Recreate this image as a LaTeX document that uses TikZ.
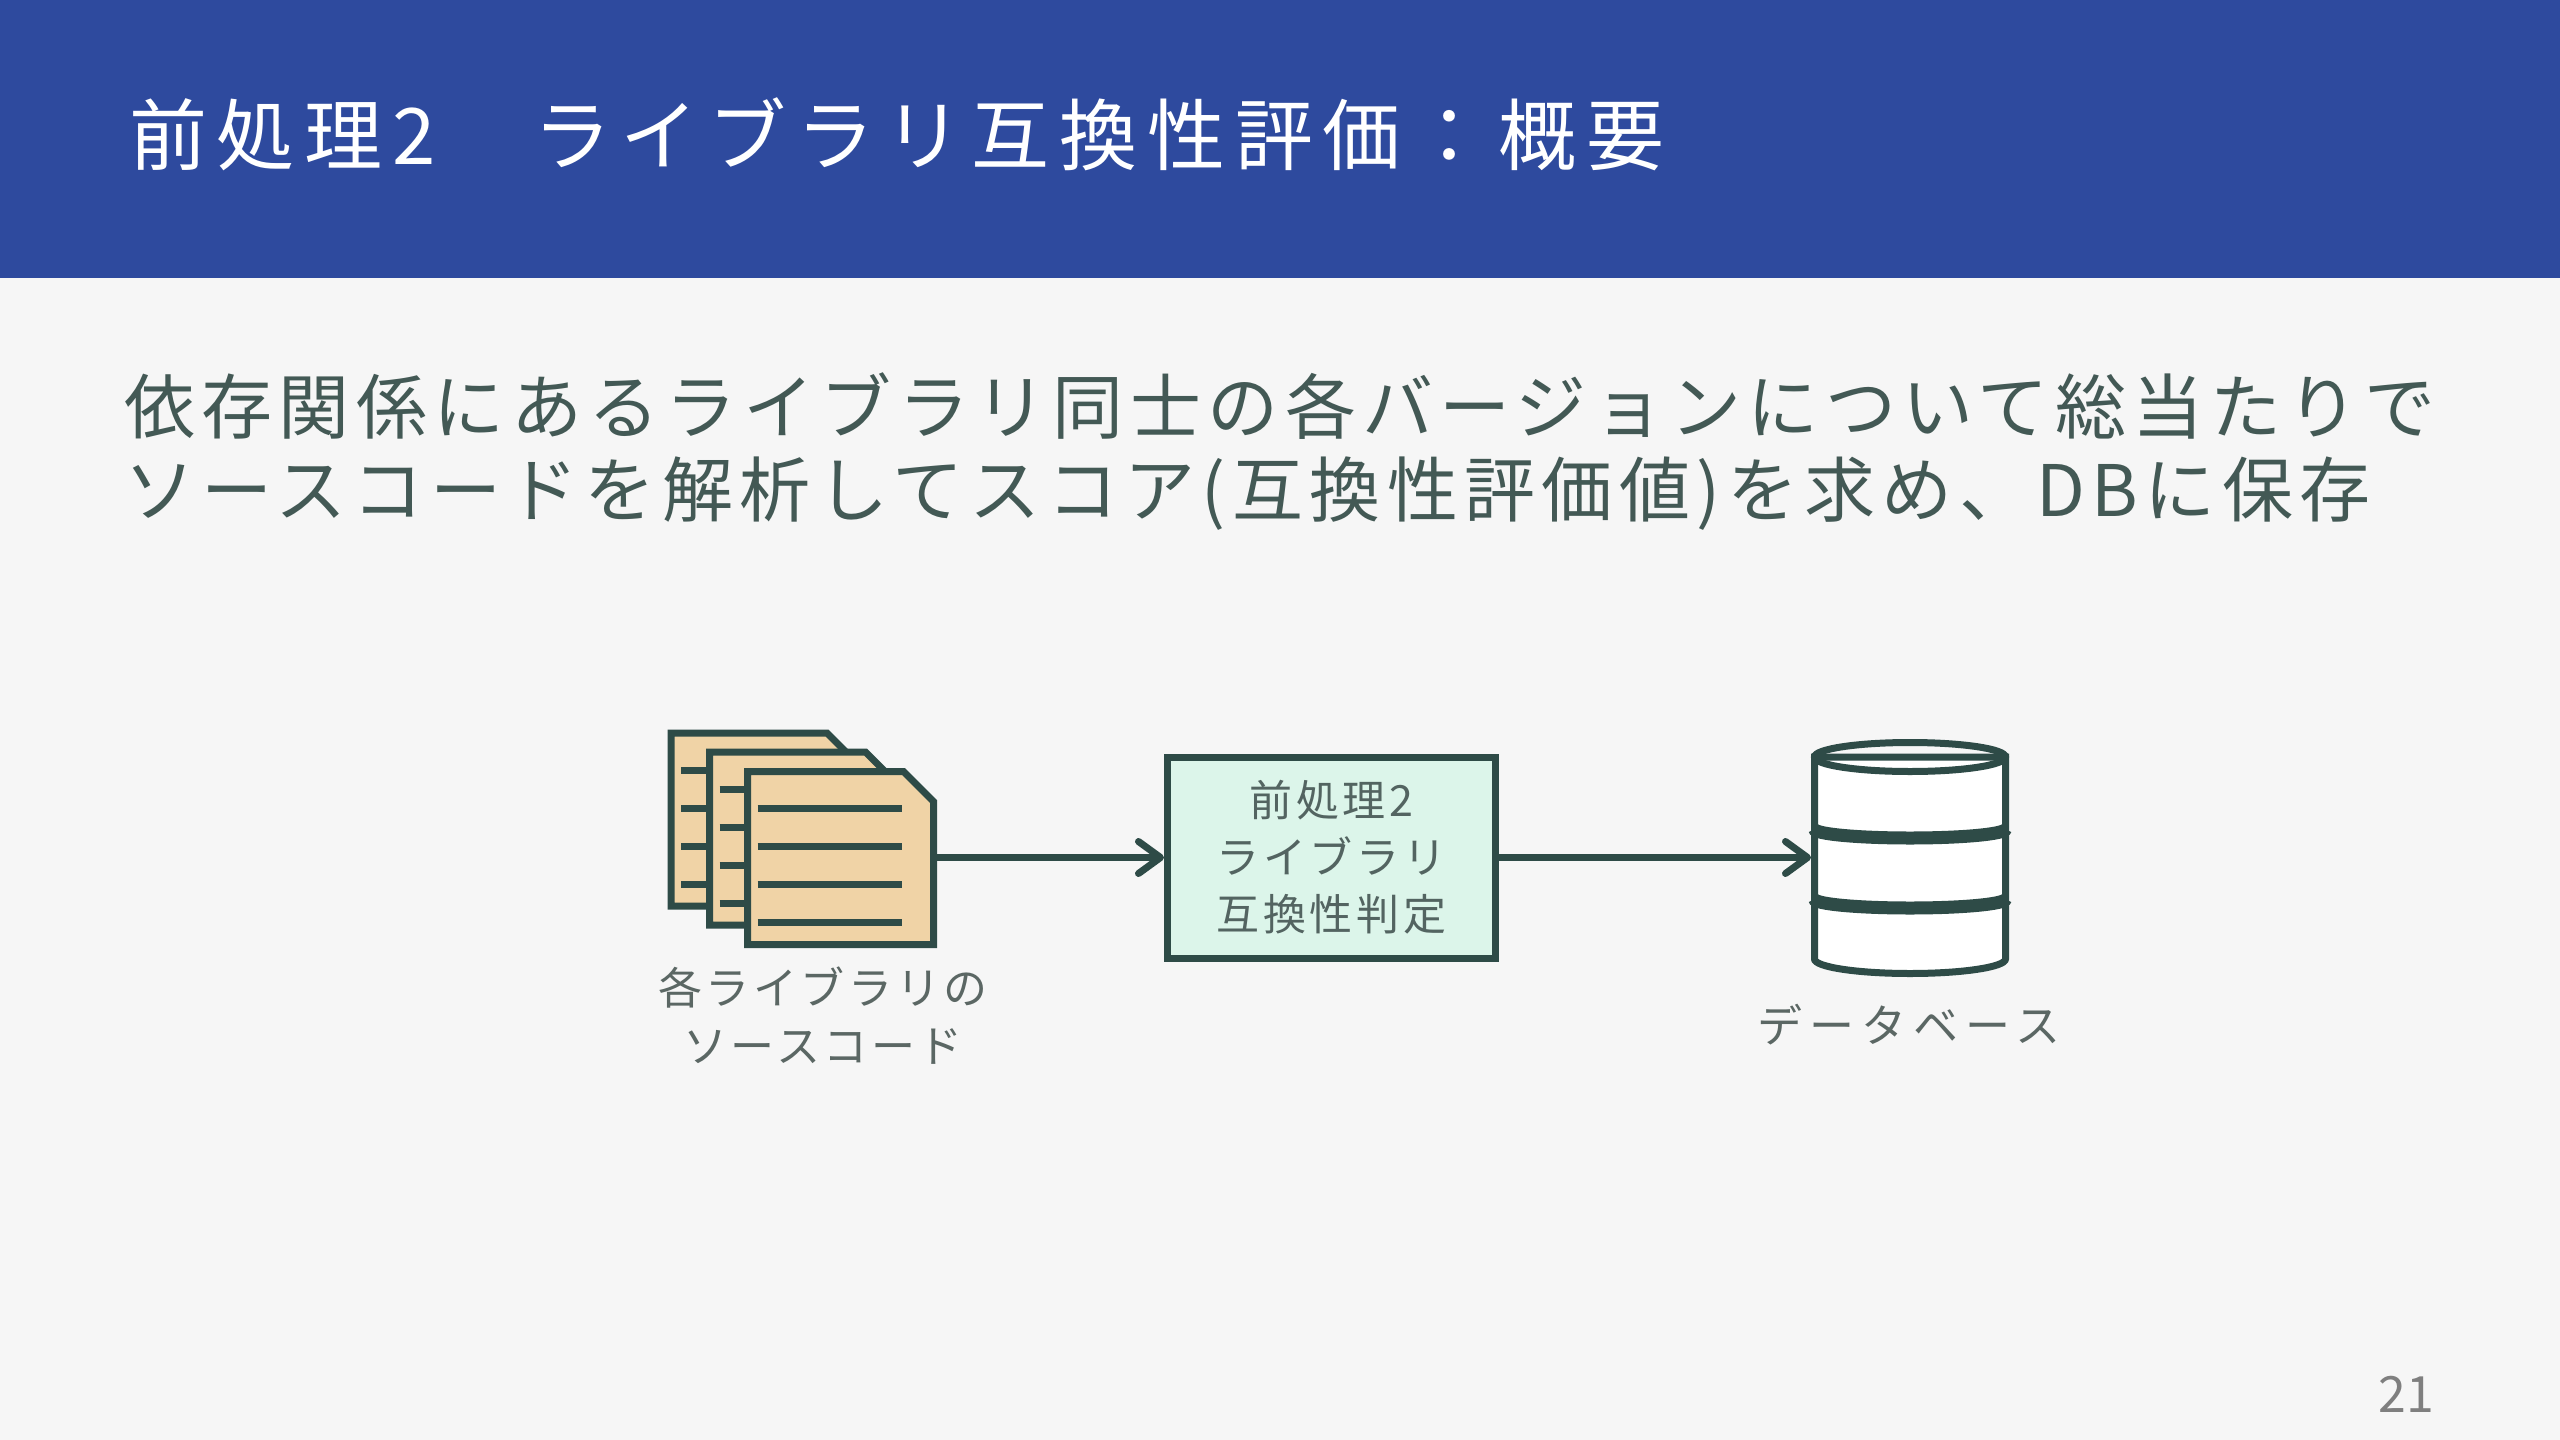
\documentclass[tikz,border=0pt]{standalone}
\usepackage{fontspec}
\setmainfont{Noto Sans CJK JP}
\newfontfamily\titlefont[LetterSpace=12.5]{Noto Sans CJK JP}
\newfontfamily\bodyfont[LetterSpace=9]{Noto Sans CJK JP}
\newfontfamily\boxfont[LetterSpace=8.5]{Noto Sans CJK JP}
\newfontfamily\labfont[LetterSpace=8]{Noto Sans CJK JP}
\newfontfamily\dblabfont[LetterSpace=16]{Noto Sans CJK JP}
\usetikzlibrary{arrows.meta}
\definecolor{bgc}{HTML}{F6F6F6}
\definecolor{hdr}{HTML}{2E4A9E}
\definecolor{ink}{HTML}{2E4B47}
\definecolor{docfill}{HTML}{F0D3A6}
\definecolor{boxfill}{HTML}{DCF5EA}
\definecolor{bodytext}{HTML}{435955}
\definecolor{boxtext}{HTML}{536461}
\definecolor{labtext}{HTML}{5B6764}
\definecolor{pgtext}{HTML}{7F7F7F}
\tikzset{
  docstroke/.style={draw=ink, line width=7pt, line join=miter},
  dbstroke/.style={draw=ink, line width=7pt},
  conn/.style={draw=ink, line width=7pt, -{Straight Barb[length=22pt,width=32pt,round]}},
  procbox/.style={draw=ink, fill=boxfill, line width=7pt, minimum width=328pt, minimum height=201pt,
    inner sep=0pt, align=center, text=boxtext, font={\boxfont\fontsize{43}{57}\selectfont}},
  lab/.style={inner sep=0pt, align=center, text=labtext, font={\labfont\fontsize{44}{58}\selectfont}},
  srcdoc/.pic={
    \filldraw[docstroke, fill=docfill] (0,0) -- (156,0) -- (186,30) -- (186,173) -- (0,173) -- cycle;
    \foreach \yy in {37,75,113,151} \draw[docstroke] (10,\yy) -- (154,\yy);
  }
}
\begin{document}
\begin{tikzpicture}[x=1pt,y=-1pt]
\useasboundingbox (0,0) rectangle (2560,1440);
\fill[bgc] (0,0) rectangle (2560,1440);
\fill[hdr] (0,0) rectangle (2560,278);

\node[anchor=base west, inner sep=0pt, text=white, font={\titlefont\fontsize{78}{90}\selectfont}] (title) at (129,164) {前処理2　ライブラリ互換性評価：概要};

\node[anchor=base west, inner sep=0pt, text=bodytext, font={\bodyfont\fontsize{71}{82}\selectfont}] (body1) at (124,433.5) {依存関係にあるライブラリ同士の各バージョンについて総当たりで};
\node[anchor=base west, inner sep=0pt, text=bodytext, font={\bodyfont\fontsize{71}{82}\selectfont}] (body2) at (124,516) {ソースコードを解析してスコア(互換性評価値)を求め、DBに保存};

% source documents
\pic at (671,733) {srcdoc};
\pic at (709.5,752) {srcdoc};
\pic at (747.5,771.5) {srcdoc};
\coordinate (docR) at (934,857.5);

% process box
\node[procbox] (proc) at (1331.5,857.5) {前処理2\\ライブラリ\\互換性判定};

% database
\filldraw[dbstroke, fill=white] (1814.5,757) -- (1814.5,959)
  arc[start angle=180, end angle=0, x radius=95.5, y radius=14.5] -- (2005.5,757) -- cycle;
\draw[dbstroke] (1910,757) ellipse [x radius=95.5, y radius=14.5];
\draw[dbstroke, line width=13pt] (1814.5,829) arc[start angle=180, end angle=0, x radius=95.5, y radius=9];
\draw[dbstroke, line width=13pt] (1814.5,899) arc[start angle=180, end angle=0, x radius=95.5, y radius=9];
\node[minimum width=198pt, minimum height=236pt, inner sep=0pt, outer sep=0pt] (db) at (1910,857.5) {};

% connectors
\draw[conn] (docR) -- (proc.west);
\draw[conn] (proc.east) -- (db.west);

% labels
\node[lab] (srclab) at (823,1016) {各ライブラリの\\ソースコード};
\node[inner sep=0pt, text=labtext, font={\dblabfont\fontsize{45}{58}\selectfont}] (dblab) at (1909,1025) {データベース};

\node[inner sep=0pt, text=pgtext, font={\fontsize{50}{60}\selectfont}] (pgnum) at (2406,1394) {21};
\end{tikzpicture}
\end{document}
